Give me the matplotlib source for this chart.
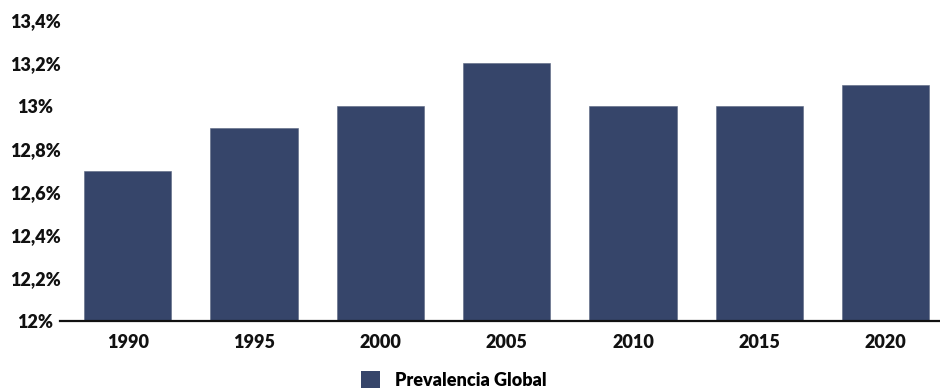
import matplotlib
matplotlib.use("Agg")
import matplotlib.pyplot as plt
from matplotlib.patches import Patch
from matplotlib.ticker import FuncFormatter

years = ["1990", "1995", "2000", "2005", "2010", "2015", "2020"]
prevalence = [12.7, 12.9, 13.0, 13.2, 13.0, 13.0, 13.1]
y_ticks = [12.0, 12.2, 12.4, 12.6, 12.8, 13.0, 13.2, 13.4]
series_name = "Prevalencia Global"

bar_color = "#36456a"
plt.rcParams["font.family"] = ["Lato", "DejaVu Sans"]

fig = plt.figure(figsize=(9.4, 3.9), dpi=100)
ax = fig.add_axes([60 / 940, 1 - 321 / 390, 880 / 940, 301 / 390])

x = list(range(len(years)))
ax.bar(x, [v - 12.0 for v in prevalence], bottom=12.0, width=0.69,
       color=bar_color, edgecolor="#5a6680", linewidth=0.4, zorder=2)

ax.set_ylim(12.0, 13.4)
ax.set_xlim(-0.535, 6.43)
ax.set_yticks(y_ticks)


def pct(v, _):
    s = f"{v:.1f}".rstrip("0").rstrip(".")
    return s.replace(".", ",") + "%"


ax.yaxis.set_major_formatter(FuncFormatter(pct))
ax.set_xticks(x)
ax.set_xticklabels(years)
ax.tick_params(axis="both", length=0, labelsize=13, colors="#111111")
ax.tick_params(axis="y", pad=17.6)
ax.tick_params(axis="x", pad=9)
for lbl in ax.get_xticklabels() + ax.get_yticklabels():
    lbl.set_fontweight("heavy")
for lbl in ax.get_yticklabels():
    lbl.set_horizontalalignment("center")

for side in ("top", "right", "left"):
    ax.spines[side].set_visible(False)
ax.spines["bottom"].set_linewidth(1.6)
ax.spines["bottom"].set_color("#111111")

fig.legend(handles=[Patch(facecolor=bar_color, label=series_name)],
           loc="center", bbox_to_anchor=(454 / 940, 1 - 380 / 390),
           frameon=False, handlelength=1.0, handleheight=1.0,
           handletextpad=0.85, borderpad=0.1,
           prop={"weight": "heavy", "size": 13})

fig.savefig("out.png", dpi=100)
